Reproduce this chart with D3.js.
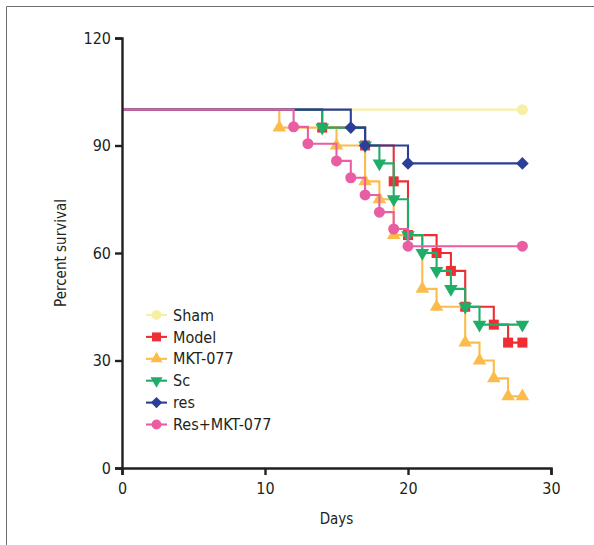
<!DOCTYPE html>
<html>
<head>
<meta charset="utf-8">
<script src="https://cdn.jsdelivr.net/npm/d3@7/dist/d3.min.js"></script>
<style>
  body { margin: 0; background: #fff; }
  svg text { font-family: "DejaVu Sans Condensed", "DejaVu Sans", sans-serif; font-stretch: condensed; fill: #231f20; }
</style>
</head>
<body>
<div class="chart"></div>
<script>
// survival curves, one pair of arrays per group (days, percent surviving)
const groups = ["Sham", "Model", "MKT-077", "Sc", "res", "Res+MKT-077"];
const colors = ["#f6f0a6", "#ee2e34", "#fcbc4c", "#1fae68", "#2b3f98", "#e95ea2"];

const shamDays = [0, 28];
const shamPct = [100, 100];
const modelDays = [0, 14, 17, 19, 20, 22, 23, 24, 26, 27, 28];
const modelPct = [100, 95, 90, 80, 65, 60, 55, 45, 40, 35, 35];
const mktDays = [0, 11, 15, 17, 18, 19, 21, 22, 24, 25, 26, 27, 28];
const mktPct = [100, 95, 90, 80, 75, 65, 50, 45, 35, 30, 25, 20, 20];
const scDays = [0, 14, 17, 18, 19, 20, 21, 22, 23, 24, 25, 28];
const scPct = [100, 95, 90, 85, 75, 65, 60, 55, 50, 45, 40, 40];
const resDays = [0, 16, 17, 20, 28];
const resPct = [100, 95, 90, 85, 85];
const comboDays = [0, 12, 13, 15, 16, 17, 18, 19, 20, 28];
const comboPct = [100, 95.2, 90.5, 85.7, 81, 76.2, 71.4, 66.7, 61.9, 61.9];

const xTicks = [0, 10, 20, 30];
const yTicks = [0, 30, 60, 90, 120];

const dims = {
    width: 594,
    height: 545,
    margin: {left: 122, right: 43, top: 38, bottom: 77}
};

const seriesDays = [shamDays, modelDays, mktDays, scDays, resDays, comboDays];
const seriesPct = [shamPct, modelPct, mktPct, scPct, resPct, comboPct];
const series = groups.map((name, i) => ({
    name: name,
    color: colors[i],
    points: seriesDays[i].map((d, j) => ({day: d, pct: seriesPct[i][j]}))
}));

const svg = d3.select('.chart').append('svg')
    .attr('width', dims.width)
    .attr('height', dims.height);

// frame (only left and top edges visible in the original crop)
svg.append('path')
    .attr('d', `M6.5,${dims.height}V6.5H${dims.width}`)
    .attr('fill', 'none')
    .attr('stroke', '#6d6e71')
    .attr('stroke-width', 1);

const x = d3.scaleLinear()
    .domain([0, 30])
    .range([dims.margin.left, dims.width - dims.margin.right]);

const y = d3.scaleLinear()
    .domain([0, 120])
    .range([dims.height - dims.margin.bottom, dims.margin.top]);

const symbolFor = [
    {type: d3.symbolCircle, size: 95, rot: 0},
    {type: d3.symbolSquare, size: 100, rot: 0},
    {type: d3.symbolTriangle, size: 80, rot: 0},
    {type: d3.symbolTriangle, size: 80, rot: 180},
    {type: d3.symbolSquare, size: 80, rot: 45},
    {type: d3.symbolCircle, size: 95, rot: 0}
];

const line = d3.line()
    .curve(d3.curveStepAfter)
    .x(d => x(d.day))
    .y(d => y(d.pct));

const curves = svg.append('g')
    .selectAll('g')
    .data(series)
    .join('g');

curves.append('path')
    .attr('d', s => line(s.points))
    .attr('fill', 'none')
    .attr('stroke', s => s.color)
    .attr('stroke-width', 2.1);

curves.each(function (s, i) {
    const sym = symbolFor[i];
    d3.select(this).selectAll('path.mark')
        .data(s.points.slice(1))
        .join('path')
        .attr('class', 'mark')
        .attr('d', d3.symbol().type(sym.type).size(sym.size))
        .attr('transform', d => `translate(${x(d.day)},${y(d.pct)}) rotate(${sym.rot})`)
        .attr('fill', s.color);
});

// axes
svg.append('g')
    .attr('transform', `translate(${dims.margin.left},0)`)
    .call(d3.axisLeft(y).tickValues(yTicks).tickSize(7).tickPadding(4))
    .call(g => g.select('.domain').attr('stroke-width', 2.4).attr('stroke', '#231f20'))
    .call(g => g.selectAll('.tick line').attr('stroke-width', 2.4).attr('stroke', '#231f20'))
    .call(g => g.selectAll('.tick text').style('font-size', '16px').attr('fill', '#231f20'));

svg.append('g')
    .attr('transform', `translate(0,${dims.height - dims.margin.bottom})`)
    .call(d3.axisBottom(x).tickValues(xTicks).tickSize(7).tickPadding(8))
    .call(g => g.select('.domain').attr('stroke-width', 2.4).attr('stroke', '#231f20'))
    .call(g => g.selectAll('.tick line').attr('stroke-width', 2.4).attr('stroke', '#231f20'))
    .call(g => g.selectAll('.tick text').style('font-size', '16px').attr('fill', '#231f20'));

svg.append('text')
    .attr('x', (x(0) + x(30)) / 2)
    .attr('y', 524)
    .attr('text-anchor', 'middle')
    .style('font-size', '15px')
    .text('Days');

svg.append('text')
    .attr('transform', `translate(66,${y(60)}) rotate(-90)`)
    .attr('text-anchor', 'middle')
    .style('font-size', '15px')
    .text('Percent survival');

// legend
const legend = svg.append('g')
    .selectAll('g')
    .data(series)
    .join('g')
    .attr('transform', (d, i) => `translate(146,${315 + i * 21.9})`);

legend.append('line')
    .attr('x1', 0).attr('x2', 21)
    .attr('stroke', d => d.color)
    .attr('stroke-width', 2.1);

legend.append('path')
    .attr('d', (d, i) => d3.symbol().type(symbolFor[i].type).size(symbolFor[i].size * 0.8)())
    .attr('transform', (d, i) => `translate(10.5,0) rotate(${symbolFor[i].rot})`)
    .attr('fill', d => d.color);

legend.append('text')
    .attr('x', 27)
    .attr('dy', '0.35em')
    .style('font-size', '16px')
    .text(d => d.name);
</script>
</body>
</html>
